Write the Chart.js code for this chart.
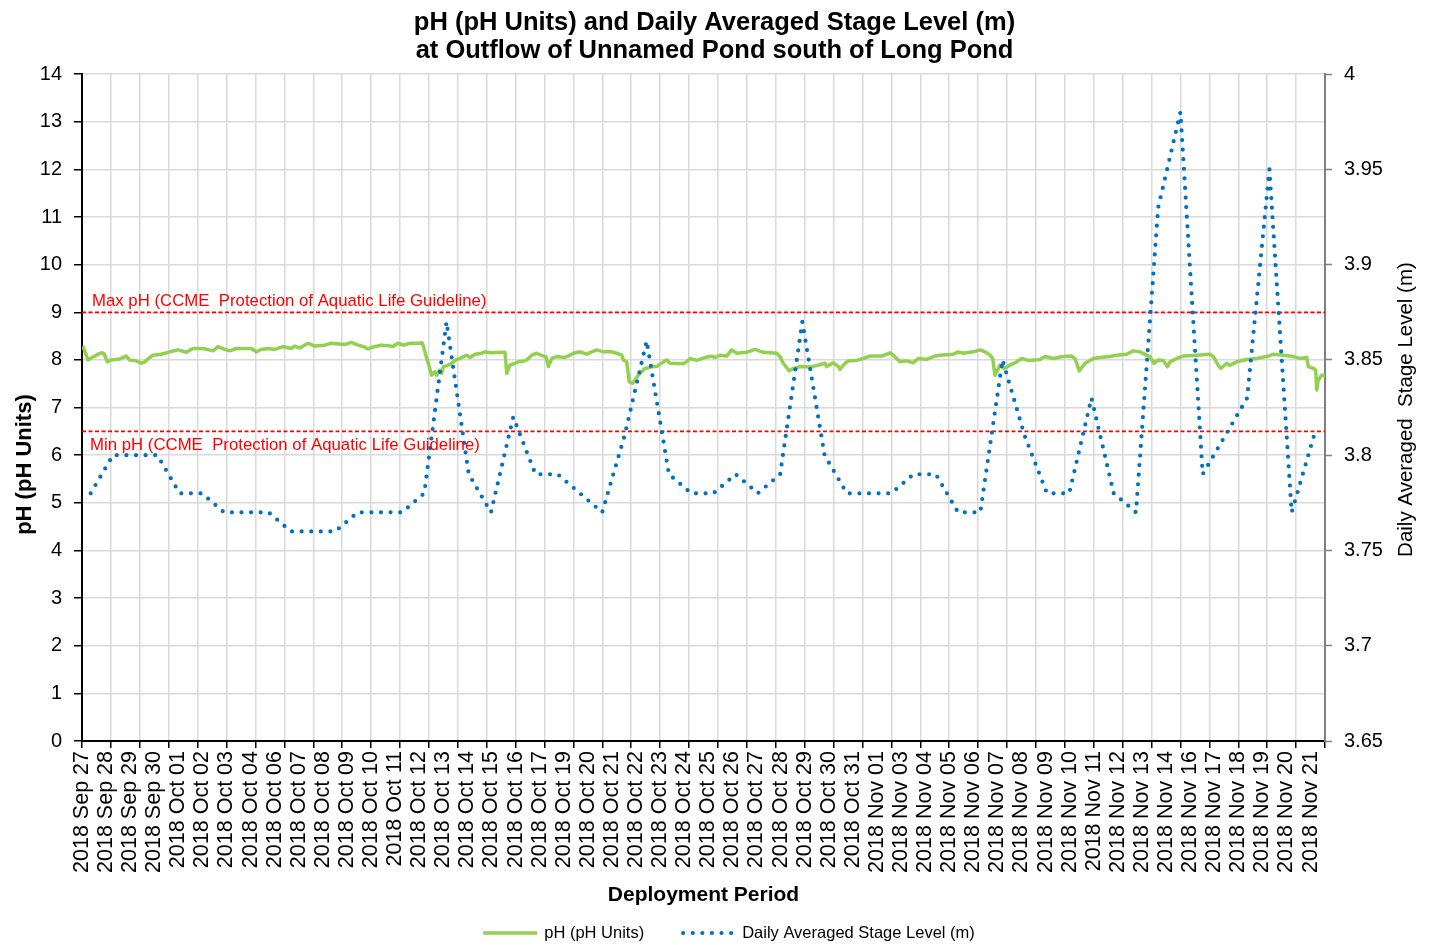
<!DOCTYPE html>
<html><head><meta charset="utf-8">
<script src="https://cdn.jsdelivr.net/npm/chart.js@4.4.1/dist/chart.umd.min.js"></script>
<style>html,body{margin:0;padding:0;background:#fff;overflow:hidden}</style>
</head><body>
<canvas id="c" width="1429" height="945"></canvas>
<script>
// ---------------- DATA ----------------
const titleLines = ['pH (pH Units) and Daily Averaged Stage Level (m)', 'at Outflow of Unnamed Pond south of Long Pond'];
const xTitle = 'Deployment Period';
const yLeftTitle = 'pH (pH Units)';
const yRightTitle = 'Daily Averaged  Stage Level (m)';
const phLabel = 'pH (pH Units)';
const stageLabel = 'Daily Averaged Stage Level (m)';
const maxPH = 9;
const minPH = 6.5;
const maxPHLabel = 'Max pH (CCME  Protection of Aquatic Life Guideline)';
const minPHLabel = 'Min pH (CCME  Protection of Aquatic Life Guideline)';

const xTickLabels = ['2018 Sep 27','2018 Sep 28','2018 Sep 29','2018 Sep 30','2018 Oct 01','2018 Oct 02','2018 Oct 03','2018 Oct 04','2018 Oct 06','2018 Oct 07','2018 Oct 08','2018 Oct 09','2018 Oct 10','2018 Oct 11','2018 Oct 12','2018 Oct 13','2018 Oct 14','2018 Oct 15','2018 Oct 16','2018 Oct 17','2018 Oct 19','2018 Oct 20','2018 Oct 21','2018 Oct 22','2018 Oct 23','2018 Oct 24','2018 Oct 25','2018 Oct 26','2018 Oct 27','2018 Oct 28','2018 Oct 29','2018 Oct 30','2018 Oct 31','2018 Nov 01','2018 Nov 03','2018 Nov 04','2018 Nov 05','2018 Nov 06','2018 Nov 07','2018 Nov 08','2018 Nov 09','2018 Nov 10','2018 Nov 11','2018 Nov 12','2018 Nov 13','2018 Nov 14','2018 Nov 16','2018 Nov 17','2018 Nov 18','2018 Nov 19','2018 Nov 20','2018 Nov 21'];

// Daily averaged stage level (m), one value per day from 2018 Sep 27 to 2018 Nov 21
const stageValues = [3.78,3.80,3.80,3.80,3.78,3.78,3.77,3.77,3.77,3.76,3.76,3.76,3.77,3.77,3.77,3.78,
  3.87,3.79,3.77,3.82,3.79,3.79,3.78,3.77,3.81,3.86,3.79,3.78,3.78,3.79,3.78,3.79,3.87,3.80,3.78,3.78,
  3.78,3.79,3.79,3.77,3.77,3.85,3.81,3.78,3.78,3.83,3.78,3.77,3.93,3.98,3.79,3.81,3.83,3.95,3.77,3.81];

// pH record: time (days from start of deployment axis) and value
const phTime = [0.04,0.27,0.45,0.64,0.87,0.99,1.14,1.30,1.70,1.99,2.14,2.44,2.67,2.83,2.94,3.19,3.57,3.94,4.32,4.69,4.99,
  5.44,5.71,5.89,6.12,6.42,6.64,6.94,7.61,7.84,8.05,8.36,8.66,9.04,9.41,9.56,9.79,10.16,10.46,10.91,11.21,11.65,11.88,
  12.11,12.41,12.71,12.86,13.08,13.46,13.76,13.98,14.21,14.45,14.75,15.20,15.29,15.35,15.50,15.62,15.72,15.87,15.95,
  16.07,16.17,16.25,16.47,16.62,16.85,17.00,17.30,17.45,17.67,17.97,18.12,18.35,19.02,19.10,19.24,19.47,19.62,19.92,
  20.07,20.22,20.45,20.74,20.86,20.97,21.12,21.34,21.72,21.94,22.09,22.39,22.69,22.92,23.14,23.44,23.82,24.04,24.27,
  24.34,24.49,24.61,24.76,24.87,25.01,25.31,25.69,25.84,26.14,26.29,26.44,27.04,27.19,27.34,27.64,28.01,28.31,28.46,
  28.69,28.99,29.21,29.44,29.89,30.26,30.63,31.24,31.38,31.53,31.65,31.80,31.98,32.28,32.73,33.11,33.41,33.48,33.78,
  34.01,34.08,34.31,34.46,34.83,35.13,35.43,35.96,36.33,36.48,36.78,37.08,37.38,37.60,37.98,38.28,38.58,39.18,39.40,
  39.63,40.08,40.38,40.60,40.83,40.95,41.05,41.28,41.46,41.73,42.03,42.25,42.55,43.08,43.30,43.67,44.12,44.50,44.65,
  44.84,45.10,45.47,45.77,46.22,46.52,46.97,47.27,47.57,47.87,48.02,48.20,48.40,48.62,48.80,48.92,49.22,49.52,50.12,
  50.72,50.87,51.09,51.20,51.47,51.62,51.92,52.37,52.82,53.27,53.57,54.02,54.47,54.77,55.07,55.14,55.38,55.47,55.52,
  55.59,55.74,55.89];
const phValues = [8.29,8.00,8.05,8.10,8.15,8.13,7.96,8.00,8.02,8.08,8.00,7.98,7.93,7.96,8.01,8.10,8.12,8.17,8.21,8.16,8.24,
  8.24,8.21,8.19,8.28,8.22,8.19,8.24,8.24,8.17,8.22,8.24,8.22,8.28,8.24,8.29,8.25,8.35,8.29,8.31,8.35,8.33,8.33,
  8.37,8.31,8.27,8.23,8.27,8.31,8.30,8.28,8.35,8.31,8.35,8.35,8.36,8.29,8.03,7.85,7.68,7.75,7.68,
  7.78,7.72,7.86,7.89,7.93,8.01,8.03,8.10,8.05,8.12,8.14,8.17,8.15,8.16,7.72,7.89,7.93,7.96,7.98,
  8.03,8.10,8.14,8.08,8.07,7.86,8.03,8.07,8.05,8.10,8.14,8.17,8.12,8.17,8.21,8.17,8.17,8.14,8.10,
  8.00,7.96,7.54,7.51,7.58,7.68,7.82,7.86,7.86,7.96,8.00,7.93,7.92,7.96,8.03,7.99,8.05,8.08,8.05,
  8.10,8.08,8.21,8.14,8.16,8.22,8.16,8.14,8.07,7.93,7.86,7.77,7.82,7.86,7.85,7.89,7.93,7.86,7.94,
  7.86,7.80,7.93,7.98,7.99,8.03,8.08,8.08,8.15,8.10,7.96,7.98,7.94,8.03,8.01,8.07,8.10,8.12,8.17,
  8.14,8.17,8.21,8.17,8.10,8.03,7.68,7.89,7.82,7.89,7.96,8.03,7.99,8.01,8.07,8.03,8.07,8.08,8.03,
  7.77,7.93,8.03,8.05,8.07,8.10,8.12,8.19,8.17,8.10,8.07,7.93,8.00,7.99,7.86,7.96,8.03,8.08,8.10,
  8.12,8.07,7.89,7.82,7.93,7.89,7.96,8.01,8.03,8.07,8.12,8.10,8.07,8.03,8.05,7.86,7.82,7.79,7.37,
  7.58,7.68,7.68];

// ---------------- AXIS LAYOUT (days) ----------------
const AXIS_DAYS = 55.89;          // full deployment axis length
const LABEL_STEP = 1.0832;        // spacing of date labels
const GRID_COUNT = 43;            // number of vertical grid intervals
const STAGE_OFFSET = 0.39;        // position of daily average within each day
const FONT = "'Liberation Sans', Arial, Helvetica, sans-serif";
Chart.defaults.font.family = FONT;
Chart.defaults.color = '#000';

const labelTicks = xTickLabels.map((_, k) => ({value: k * LABEL_STEP}));
const gridTicks = Array.from({length: GRID_COUNT + 1}, (_, k) => ({value: k * AXIS_DAYS / GRID_COUNT}));

const phData = phTime.map((t, i) => ({x: t, y: phValues[i]}));
const stageData = stageValues.map((v, d) => ({x: d + STAGE_OFFSET, y: v}));

const guideLabels = {
  id: 'guideLabels',
  afterDatasetsDraw(chart) {
    const {ctx, chartArea, scales} = chart;
    ctx.save();
    ctx.font = '16.8px ' + FONT;
    ctx.fillStyle = '#FF0000';
    ctx.textAlign = 'left';
    ctx.textBaseline = 'middle';
    ctx.fillText(maxPHLabel, chartArea.left + 10, scales.y.getPixelForValue(maxPH) - 11);
    ctx.fillText(minPHLabel, chartArea.left + 8, scales.y.getPixelForValue(minPH) + 14);
    ctx.restore();
  }
};

const axisTitles = {
  id: 'axisTitles',
  afterDraw(chart) {
    const {ctx, chartArea, scales} = chart;
    const midY = (chartArea.top + chartArea.bottom) / 2;
    ctx.save();
    ctx.fillStyle = '#000';
    ctx.textAlign = 'center';
    ctx.textBaseline = 'middle';
    // right axis title
    ctx.font = '20.5px ' + FONT;
    ctx.save();
    ctx.translate(scales.yR.right - 23, midY + 2);
    ctx.rotate(-Math.PI / 2);
    ctx.fillText(yRightTitle, 0, 0);
    ctx.restore();
    // left axis title
    ctx.font = 'bold 22px ' + FONT;
    ctx.save();
    ctx.translate(scales.y.left + 25, midY + 57);
    ctx.rotate(-Math.PI / 2);
    ctx.fillText(yLeftTitle, 0, 0);
    ctx.restore();
    ctx.restore();
  }
};

const bottomLegend = {
  id: 'bottomLegend',
  afterDraw(chart) {
    const {ctx} = chart;
    const items = [chart.data.datasets[0], chart.data.datasets[1]];
    ctx.save();
    ctx.font = '16.5px ' + FONT;
    const sample = 54, gapText = 7, itemGap = 37;
    const widths = items.map(d => ctx.measureText(d.label).width);
    const total = items.length * (sample + gapText) + widths[0] + widths[1] + itemGap;
    let x = chart.width / 2 + 14.5 - total / 2;
    const y = chart.height - 12;
    items.forEach((d, i) => {
      ctx.beginPath();
      ctx.strokeStyle = d.borderColor;
      ctx.lineWidth = d.borderWidth;
      ctx.lineCap = d.borderCapStyle || 'butt';
      ctx.setLineDash(d.borderDash || []);
      ctx.moveTo(x + (d.borderDash ? 2 : 0), y);
      ctx.lineTo(x + sample, y);
      ctx.stroke();
      ctx.setLineDash([]);
      ctx.fillStyle = '#000';
      ctx.textAlign = 'left';
      ctx.textBaseline = 'middle';
      ctx.fillText(d.label, x + sample + gapText, y);
      x += sample + gapText + widths[i] + itemGap;
    });
    ctx.restore();
  }
};

new Chart(document.getElementById('c'), {
  type: 'line',
  data: {
    datasets: [
      {label: phLabel, data: phData, yAxisID: 'y', xAxisID: 'x', borderColor: '#92D050', backgroundColor: '#92D050',
       borderWidth: 3.5, pointRadius: 0, borderJoinStyle: 'round', tension: 0, order: 3},
      {label: stageLabel, data: stageData, yAxisID: 'yR', xAxisID: 'x', borderColor: '#0070C0', backgroundColor: '#0070C0',
       borderWidth: 4.2, borderDash: [0, 9.6], borderCapStyle: 'round', pointRadius: 0, tension: 0, order: 1},
      {label: 'Max pH', data: [{x: 0, y: maxPH}, {x: AXIS_DAYS, y: maxPH}], yAxisID: 'y', xAxisID: 'x',
       borderColor: '#FF0000', borderWidth: 1.8, borderDash: [4, 2.5], pointRadius: 0, order: 2},
      {label: 'Min pH', data: [{x: 0, y: minPH}, {x: AXIS_DAYS, y: minPH}], yAxisID: 'y', xAxisID: 'x',
       borderColor: '#FF0000', borderWidth: 1.8, borderDash: [4, 2.5], pointRadius: 0, order: 2}
    ]
  },
  options: {
    responsive: false,
    animation: false,
    devicePixelRatio: 1,
    layout: {padding: {top: 0, left: 0, right: 0, bottom: 30}},
    plugins: {
      legend: {display: false},
      tooltip: {enabled: false},
      title: {display: true, text: titleLines, color: '#000',
        font: {size: 25.5, weight: 'bold', lineHeight: 1.1}, padding: {top: 9, bottom: 9}}
    },
    scales: {
      x: {
        type: 'linear', position: 'bottom', min: 0, max: AXIS_DAYS, weight: 0,
        afterBuildTicks: ax => { ax.ticks = gridTicks.map(t => ({value: t.value})); },
        afterFit: ax => { ax.height = 0; },
        ticks: {display: false},
        grid: {
          color: c => (c.index === 0 || c.index === GRID_COUNT) ? 'rgba(0,0,0,0)' : '#D9D9D9',
          lineWidth: 1.5, tickLength: 7, tickColor: '#000', tickWidth: 1.5
        },
        border: {color: '#000', width: 2}
      },
      xl: {
        type: 'linear', position: 'bottom', min: 0, max: AXIS_DAYS, weight: 1,
        afterBuildTicks: ax => { ax.ticks = labelTicks.map(t => ({value: t.value})); },
        afterFit: ax => { ax.height = 174; },
        grid: {display: false, drawTicks: false},
        border: {display: false},
        ticks: {autoSkip: false, maxRotation: 90, minRotation: 90, padding: 10, color: '#000',
          font: {size: 21.5}, callback: (v, i) => xTickLabels[i]},
        title: {display: true, text: xTitle, color: '#000', font: {size: 21, weight: 'bold'}, padding: {top: 0, bottom: 7}}
      },
      y: {
        type: 'linear', position: 'left', min: 0, max: 14,
        afterFit: ax => { ax.width = 82; },
        ticks: {stepSize: 1, color: '#000', font: {size: 20}, padding: 12},
        grid: {color: '#D9D9D9', lineWidth: 1.5, tickLength: 8, tickColor: '#000', tickWidth: 1.5},
        border: {color: '#000', width: 2}
      },
      yR: {
        type: 'linear', position: 'right', min: 3.65, max: 4,
        afterFit: ax => { ax.width = 104; },
        ticks: {stepSize: 0.05, color: '#000', font: {size: 20}, padding: 12, callback: v => String(+v.toFixed(2))},
        grid: {drawOnChartArea: false, tickLength: 7, tickColor: '#808080', tickWidth: 1.5},
        border: {color: '#808080', width: 2}
      }
    }
  },
  plugins: [guideLabels, axisTitles, bottomLegend]
});
</script>
</body></html>
